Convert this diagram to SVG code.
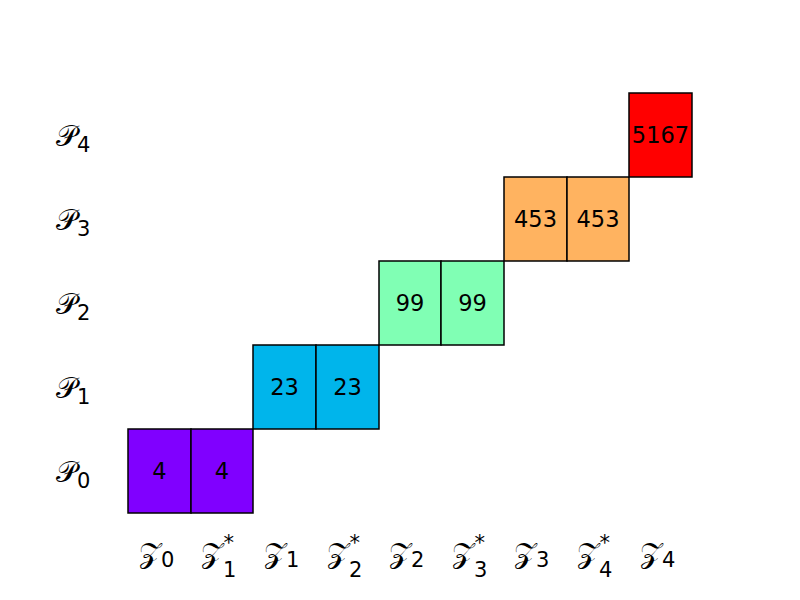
<svg xmlns="http://www.w3.org/2000/svg" width="800" height="600" viewBox="0 0 800 600">
<style>
.c{stroke:#000;stroke-width:1.5}
.n{font-family:"DejaVu Sans",sans-serif;font-size:22.5px;text-anchor:middle;fill:#000}
.m{font-family:"DejaVu Sans","Noto Sans",serif;font-size:29px;fill:#000}
.s{font-family:"DejaVu Sans",sans-serif;font-size:21px}
</style>
<rect width="800" height="600" fill="#fff"/>
<g id="cells">
<g id="c0a"><rect class="c" x="128" y="429" width="63" height="84" fill="#8000ff"/><text class="n" x="159.5" y="479">4</text></g>
<g id="c0b"><rect class="c" x="191" y="429" width="62" height="84" fill="#8000ff"/><text class="n" x="222" y="479">4</text></g>
<g id="c1a"><rect class="c" x="253" y="345" width="63" height="84" fill="#00b5eb"/><text class="n" x="284.5" y="395">23</text></g>
<g id="c1b"><rect class="c" x="316" y="345" width="63" height="84" fill="#00b5eb"/><text class="n" x="347.5" y="395">23</text></g>
<g id="c2a"><rect class="c" x="379" y="261" width="62" height="84" fill="#80ffb4"/><text class="n" x="410" y="311">99</text></g>
<g id="c2b"><rect class="c" x="441" y="261" width="63" height="84" fill="#80ffb4"/><text class="n" x="472.5" y="311">99</text></g>
<g id="c3a"><rect class="c" x="504" y="177" width="63" height="84" fill="#ffb360"/><text class="n" x="535.5" y="227">453</text></g>
<g id="c3b"><rect class="c" x="567" y="177" width="62" height="84" fill="#ffb360"/><text class="n" x="598" y="227">453</text></g>
<g id="c4"><rect class="c" x="629" y="93" width="63" height="84" fill="#ff0000"/><text class="n" x="660.5" y="143">5167</text></g>
</g>
<g id="ylabels">
<text class="m" x="56" y="146">𝒫<tspan class="s" dy="6">4</tspan></text>
<text class="m" x="56" y="230">𝒫<tspan class="s" dy="6">3</tspan></text>
<text class="m" x="56" y="314">𝒫<tspan class="s" dy="6">2</tspan></text>
<text class="m" x="56" y="398">𝒫<tspan class="s" dy="6">1</tspan></text>
<text class="m" x="56" y="482">𝒫<tspan class="s" dy="6">0</tspan></text>
</g>
<g id="xlabels">
<text class="m" x="139" y="563">𝒵<tspan class="s" dy="4">0</tspan></text>
<text class="m" x="201" y="563">𝒵<tspan class="s" dy="14">1</tspan><tspan class="s" dx="-13" dy="-27">*</tspan></text>
<text class="m" x="264" y="563">𝒵<tspan class="s" dy="4">1</tspan></text>
<text class="m" x="327" y="563">𝒵<tspan class="s" dy="14">2</tspan><tspan class="s" dx="-13" dy="-27">*</tspan></text>
<text class="m" x="389" y="563">𝒵<tspan class="s" dy="4">2</tspan></text>
<text class="m" x="452" y="563">𝒵<tspan class="s" dy="14">3</tspan><tspan class="s" dx="-13" dy="-27">*</tspan></text>
<text class="m" x="514" y="563">𝒵<tspan class="s" dy="4">3</tspan></text>
<text class="m" x="577" y="563">𝒵<tspan class="s" dy="14">4</tspan><tspan class="s" dx="-13" dy="-27">*</tspan></text>
<text class="m" x="640" y="563">𝒵<tspan class="s" dy="4">4</tspan></text>
</g>
</svg>
